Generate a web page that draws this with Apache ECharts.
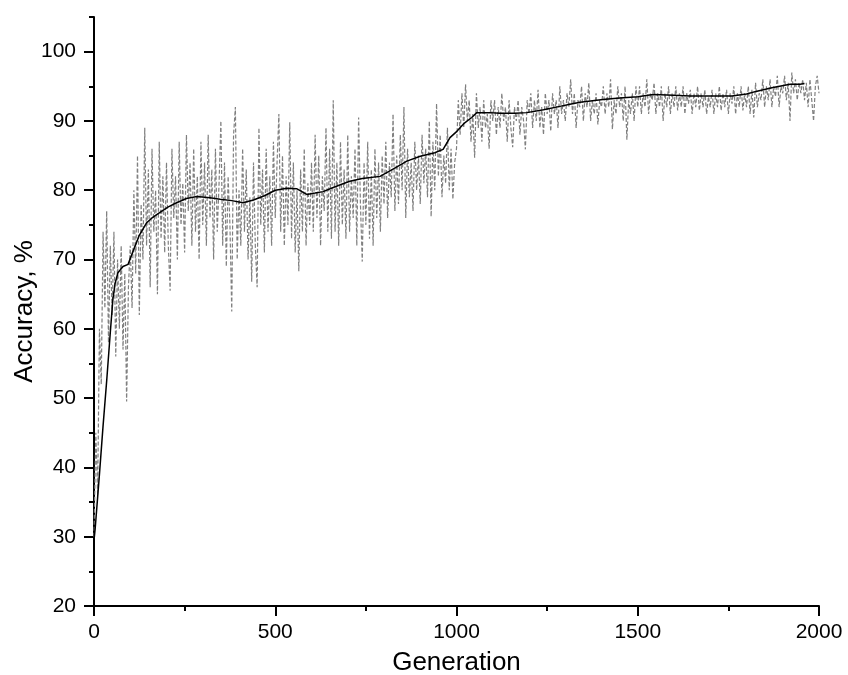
<!DOCTYPE html>
<html>
<head>
<meta charset="utf-8">
<script src="https://cdn.jsdelivr.net/npm/echarts@6/dist/echarts.min.js"></script>
<style>html,body{margin:0;padding:0;background:#fff}#c{width:848px;height:675px}</style>
</head>
<body>
<div id="c"></div>
<script>
// Raw accuracy per generation (sampled every 5 generations), gray dashed
var rawStart = 0;
var rawStep = 5;
var rawVals = [
30,45,36,60,52,74,63,77,58,72,62,74,56,70,60,72,57,68,49.5,66,
72,63,80,68,85,62,78,70,89,72,83,66,86,74,80,65,87,73,82,71,
84,72,65.5,86,76,82,70,87,75,81,71,88,77,84,72,86,74,82,70,87,
75,84,72,88,76,83,70,86,74,81,90,72,84,69,82,75,62.5,88,92,70,
80,72,86,74,83,70,79,66.8,84,72,66,89,75,83,71,86,74,82,72,87,
76,84,91,74,85,72,82,75,89.8,73,84,71,80,68.3,83,74,86,72,81,75,
84,74,88,76,85,72,82,77,89,74,86,73,93,74,84,72,87,75,83,73,
88,74,82,76,86,72,90.5,78,69.7,84,75,87,73,83,72,86,76,84,74,85,
78,87,76,84,79,91,77,85,78,88,80,92,76,86,79,84,77,87,80,85,
78,88,81,86,79,90,76.2,87,80,92.5,82,88,79,85,81,89,80,86,78.7,84,
86,93,88,94,89,95.3,90,93,87,91,84.7,94,89,92,87,93,89,91,86,93,
90,93,88,92,89,94,90,92,87,93,89,86.2,92,90,93,88,92,90,85.9,93,
91,94,89,93,90,94.5,89,92,88,94,91,93,88.5,94,91,93,89,95,91,93,
90,94,92,96,91,94,89,93,92,95,90,94,92,95.5,90,93,91,94,89.5,93,
92,95,91,94,92,96,88.8,93,91,95,92,94,90,95,87.3,93,91,94,90,95,
92,95,91,94,92,96,91,94,93,95.5,91,94,92,95,90,94,92,95,91,94,
92,95,91.5,94,92,95,91,94,92.5,94.5,91,94,92,95,91.5,94,92,94.5,91,93.5,
92,94.5,91,94,92,95,91.5,94,92,94.5,91,94,92.5,95,91,94,92,95,91.5,94,
92,95,91,94.5,90.5,95.5,92,94,93,96,92,95,93,96,92,95,93.5,96.5,92,95,
94,96.5,93,95.5,90,97,94,96,93,95.5,94,96,93,95.5,92,96,93,90,95,96.5,
94
];
// Smoothed (running) accuracy, black solid
var meanGen = [0,3,15,25,35,45,52,58,66,80,94,110,125,145,160,182,205,228,255,284,320,348,380,411,440,470,500,532,560,587,610,632,660,685,706,740,789,820,863,900,940,963,982,1001,1020,1042,1056,1090,1120,1160,1194,1240,1285,1313,1341,1404,1450,1500,1542,1600,1644,1700,1760,1800,1829,1870,1920,1948,1960];
var meanVal = [29.5,31,39,46,52.5,59.5,64.2,66.5,68.1,69,69.3,71.5,73.5,75.3,76,76.8,77.6,78.2,78.8,79.1,78.9,78.7,78.5,78.2,78.6,79.2,80,80.3,80.2,79.4,79.6,79.8,80.4,80.9,81.3,81.7,82,82.9,84.2,84.9,85.4,85.9,87.6,88.5,89.6,90.5,91.2,91.2,91.1,91.1,91.2,91.6,92.1,92.4,92.7,93.1,93.3,93.5,93.8,93.7,93.6,93.6,93.6,93.9,94.3,94.8,95.3,95.3,95.4];
var xMajor = [0,500,1000,1500,2000];
var xMinor = [250,750,1250,1750];
var yMajor = [20,30,40,50,60,70,80,90,100];
var yMinor = [25,35,45,55,65,75,85,95,105];

var rawData = rawVals.map(function(v,i){return [rawStart + i*rawStep, v];});
var meanData = meanGen.map(function(g,i){return [g, meanVal[i]];});

var font = 'Liberation Sans, Arial, sans-serif';
var chart = echarts.init(document.getElementById('c'), null, {renderer:'canvas'});
chart.setOption({
  animation:false,
  backgroundColor:'#fff',
  grid:{left:94,right:29,top:17,bottom:69,containLabel:false,outerBoundsMode:'none'},
  xAxis:[{
    type:'value',min:0,max:2000,interval:500,
    name:'Generation',nameLocation:'middle',nameGap:44,nameMoveOverlap:false,
    nameTextStyle:{fontFamily:font,fontSize:26,color:'#000'},
    axisLine:{show:true,lineStyle:{color:'#000',width:2}},
    axisTick:{show:true,length:10,customValues:xMajor,lineStyle:{color:'#000',width:2}},
    minorTick:{show:true,splitNumber:2,length:5,lineStyle:{color:'#000',width:2}},
    axisLabel:{fontFamily:font,fontSize:21,color:'#000',margin:16,customValues:xMajor,
      formatter:function(v){return String(v);}},
    splitLine:{show:false}
  }],
  yAxis:[{
    type:'value',min:20,max:105,
    name:'Accuracy, %',nameLocation:'middle',nameGap:56,nameMoveOverlap:false,
    nameTextStyle:{fontFamily:font,fontSize:26,color:'#000'},
    axisLine:{show:true,lineStyle:{color:'#000',width:2}},
    axisTick:{show:true,length:10,customValues:yMajor,lineStyle:{color:'#000',width:2}},
    axisLabel:{fontFamily:font,fontSize:21,color:'#000',margin:18,customValues:yMajor,
      formatter:function(v){return String(v);}},
    splitLine:{show:false}
  },{
    type:'value',min:20,max:105,position:'left',
    axisLine:{show:false},
    axisTick:{show:true,length:5,customValues:yMinor,lineStyle:{color:'#000',width:2}},
    axisLabel:{show:false},
    splitLine:{show:false}
  }],
  series:[{
    type:'line',data:rawData,symbol:'none',xAxisIndex:0,yAxisIndex:0,
    lineStyle:{color:'#808080',width:1.2,type:[4,2]},z:2
  },{
    type:'line',data:meanData,symbol:'none',xAxisIndex:0,yAxisIndex:0,
    lineStyle:{color:'#000',width:1.5},z:3
  }]
});
</script>
</body>
</html>
